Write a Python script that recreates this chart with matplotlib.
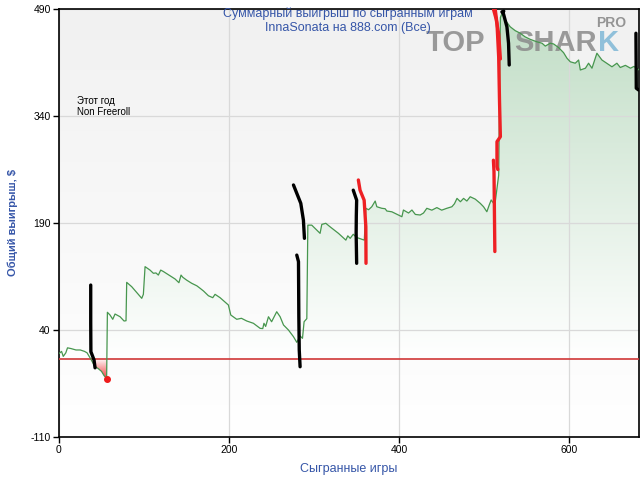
import numpy as np
import matplotlib
matplotlib.use("Agg")
import matplotlib.pyplot as plt
from matplotlib.path import Path
from matplotlib.colors import LinearSegmentedColormap

plt.rcParams['font.family'] = ['Liberation Sans', 'DejaVu Sans']
plt.rcParams['axes.unicode_minus'] = False

# cumulative winnings vs games played
games = [0, 3, 5, 8, 10, 14, 17, 20, 25, 30, 33, 38, 42, 46, 50, 53, 56,
         56.9, 60, 63.2, 65.9, 71.8, 76.5, 78.8, 79.6, 85.5, 93.3, 97.3, 99.2, 101.2, 107, 111,
         114, 116.8, 119.6, 122.7, 130.6, 136.5, 141, 143.5, 145.5, 150, 156, 162, 166, 170,
         175.7, 180.8, 183.5, 189.4, 199.2, 202, 209, 214.5, 220.8, 228.6, 236.5, 239.6, 241,
         243, 246.3, 250, 256, 260, 264, 269.8, 275.7, 279.6, 283.5, 286.3, 288.2, 291.4,
         292.6, 297.2, 301, 307, 309, 313.7, 318.6, 328.6, 337.3, 339.6, 342.4, 346, 350, 359,
         360.8, 364, 367.8, 371.8, 373.7, 379.6, 383.5, 385.5, 391.4, 397.3, 403.2, 405, 411,
         415, 419, 424.7, 428.6, 432.5, 438.4, 444.3, 450, 456, 462, 465, 468, 472, 475.7,
         479.6, 483.5, 489.4, 495.3, 499.2, 503.1, 505.9, 508.2, 511, 513, 516, 517,
         519, 521, 525, 530.6, 536.5, 542.4, 548, 554, 562, 568, 571.8, 577.6, 581.6, 587.4,
         593.3, 597.3, 601.2, 607, 611, 613, 619, 622.7, 626.7, 632.5, 638.4, 644, 650.2, 656,
         660, 666, 672, 676, 679.6, 681.5]
winnings = [7, 10, 3, 8, 15, 14, 13, 12, 12, 10, 8, -2, -11, -14, -18, -24, -28,
            64.8, 61, 55, 62.4, 58.6, 52.6, 53, 106.8, 100.7, 90, 84.4, 90, 128.8, 124, 119.5,
            120, 117, 124, 122, 116, 111.5, 106.3, 117, 114, 110, 105.5, 102, 98.4, 94.6,
            88, 85.3, 90, 85.3, 75, 61, 55, 56.4, 52.6, 49.4, 42.3, 42, 49.4,
            45, 58.6, 51.6, 65.6, 58.6, 47, 40, 30.6, 22.7, 31.6, 28.3, 51.6, 55.9,
            187, 187, 182.5, 175.5, 188, 189.6, 184.8, 175.5, 166, 172, 168.5, 174.2, 169.7, 166,
            210.6, 208.6, 212.8, 220.8, 212.8, 210.6, 210, 206.8, 205.7, 202.2, 198.8, 208.2, 204,
            208.2, 202, 201.2, 204, 210.6, 208, 211.6, 208, 210.6, 212.8, 217, 224.5, 219.8, 224.5,
            220.8, 226.8, 223.5, 217.6, 212.8, 205.8, 215.3, 222.3, 217.6, 220, 248, 257,
            478, 484, 474, 465, 459.6, 456, 451, 447.5, 444, 442, 438, 442, 441, 436,
            428.8, 421, 416, 414, 418.5, 404.5, 407, 414, 407, 428, 418.5, 414, 409, 414,
            408, 411, 407, 409.5, 407, 405]

yticks = [-110, 40, 190, 340, 490]
xticks = [0, 200, 400, 600]

# hand-drawn pen strokes on top of the screenshot
black_strokes = [
    ([37.3, 37.3, 37.5, 41.2, 42.4], [103, 50, 9.6, -2, -13]),
    ([279.6, 281.6, 282, 282.5, 283.5], [145, 135.8, 60, 12, -11.5]),
    ([275.7, 279.6, 284.3, 287.4, 288.6], [243.3, 231.6, 217.6, 194, 168.5]),
    ([346, 350, 349.6, 349.4, 350], [236, 222, 200, 175.5, 133.5]),
    ([523, 520.8, 522.7, 526.7, 528.6, 529.4], [487, 486, 483, 465, 442, 411.5]),
    ([678.4, 678.8, 681.5], [456, 379, 376.5]),
]
red_strokes = [
    ([352, 354, 358.8, 360.8, 361], [250.3, 236, 222, 184.8, 133.5]),
    ([513, 515, 517, 518, 519, 515, 515, 516], [489, 470, 423, 360, 311, 304, 269, 265]),
    ([511, 514, 517, 519], [489, 476, 455, 420]),
    ([510.8, 511.5, 512, 512.5], [278, 262, 205, 150]),
]

fig = plt.figure(figsize=(6.4, 4.8), dpi=100)
ax = fig.add_axes([59 / 640, 43 / 480, 580 / 640, 428 / 480])
x0, x1, y0, y1 = 0, 682, -110, 490

# background gradient
bg = LinearSegmentedColormap.from_list('bg', ['#ffffff', '#f1f1f1'])
ax.imshow(np.linspace(0, 1, 256).reshape(-1, 1), cmap=bg, origin='lower', aspect='auto',
          extent=[x0, x1, y0, y1], zorder=0)

g = np.array(games)
w = np.array(winnings)

# green gradient fill above zero
pos = ax.fill_between(g, w, 0, where=w >= 0, interpolate=True, facecolor='none', edgecolor='none')
gcm = LinearSegmentedColormap.from_list('gfill', ['#ffffff', '#c0ddc5'])
im = ax.imshow(np.linspace(0, 1, 256).reshape(-1, 1), cmap=gcm, origin='lower', aspect='auto',
               extent=[x0, x1, 0, 490], zorder=1)
im.set_clip_path(Path.make_compound_path(*pos.get_paths()), transform=ax.transData)

# red gradient fill below zero
neg = ax.fill_between(g, w, 0, where=w <= 0, interpolate=True, facecolor='none', edgecolor='none')
rcm = LinearSegmentedColormap.from_list('rfill', ['#f02828', '#ffffff'])
im2 = ax.imshow(np.linspace(0, 1, 256).reshape(-1, 1), cmap=rcm, origin='lower', aspect='auto',
                extent=[x0, x1, -32, 0], zorder=1)
im2.set_clip_path(Path.make_compound_path(*neg.get_paths()), transform=ax.transData)

for t in xticks:
    ax.axvline(t, color='#d9d9d9', lw=0.9, zorder=2)
for t in yticks:
    ax.axhline(t, color='#d9d9d9', lw=0.9, zorder=2)

# watermark
wm = dict(fontsize=21, fontweight='bold', va='center', ha='left', transform=fig.transFigure,
          zorder=3, alpha=0.85)
ax.text(426 / 640, 1 - 43 / 480, 'TOP', color='#8a8a8a', **wm)
ax.text(514 / 640, 1 - 43 / 480, 'SHAR', color='#8a8a8a', **wm)
ax.text(598 / 640, 1 - 43 / 480, 'K', color='#7fb8d6', **wm)
ax.text(596 / 640, 1 - 23 / 480, 'PRO', color='#8a8a8a', fontsize=10, fontweight='bold',
        va='center', ha='left', transform=fig.transFigure, zorder=3, alpha=0.9)

ax.axhline(0, color='#d03838', lw=1.2, zorder=4)
ax.plot(g, w, color='#47964e', lw=0.9, zorder=5)
imin = int(np.argmin(w))
ax.plot(g[imin], w[imin], 'o', color='#ee1c1c', ms=4, zorder=6)

for xs, ys in black_strokes:
    ax.plot(xs, ys, color='black', lw=2.4, solid_capstyle='round', zorder=7)
for xs, ys in red_strokes:
    ax.plot(xs, ys, color='#ee2024', lw=2.4, solid_capstyle='round', zorder=7)

ax.set_xlim(x0, x1)
ax.set_ylim(y0, y1)
ax.set_xticks(xticks)
ax.set_yticks(yticks)
ax.tick_params(labelsize=7.5, length=4, width=1, direction='out', pad=2)
for sp in ax.spines.values():
    sp.set_linewidth(1.2)

blue = '#3656a8'
fig.text(348 / 640, 1 - 14 / 480, 'Суммарный выигрыш по сыгранным играм', color=blue,
         fontsize=9, ha='center', va='center', zorder=8)
fig.text(348 / 640, 1 - 28 / 480, 'InnaSonata на 888.com (Все)', color=blue,
         fontsize=9, ha='center', va='center', zorder=8)
ax.text(77 / 640, 1 - 101 / 480, 'Этот год', fontsize=7, transform=fig.transFigure, va='center')
ax.text(77 / 640, 1 - 112 / 480, 'Non Freeroll', fontsize=7, transform=fig.transFigure, va='center')
fig.text(349 / 640, 1 - 469 / 480, 'Сыгранные игры', color=blue, fontsize=9,
         ha='center', va='center')
fig.text(13 / 640, 1 - 222 / 480, 'Общий выигрыш, $', color=blue, fontsize=8, fontweight='bold',
         ha='center', va='center', rotation=90)

fig.savefig('out.png', dpi=100)
